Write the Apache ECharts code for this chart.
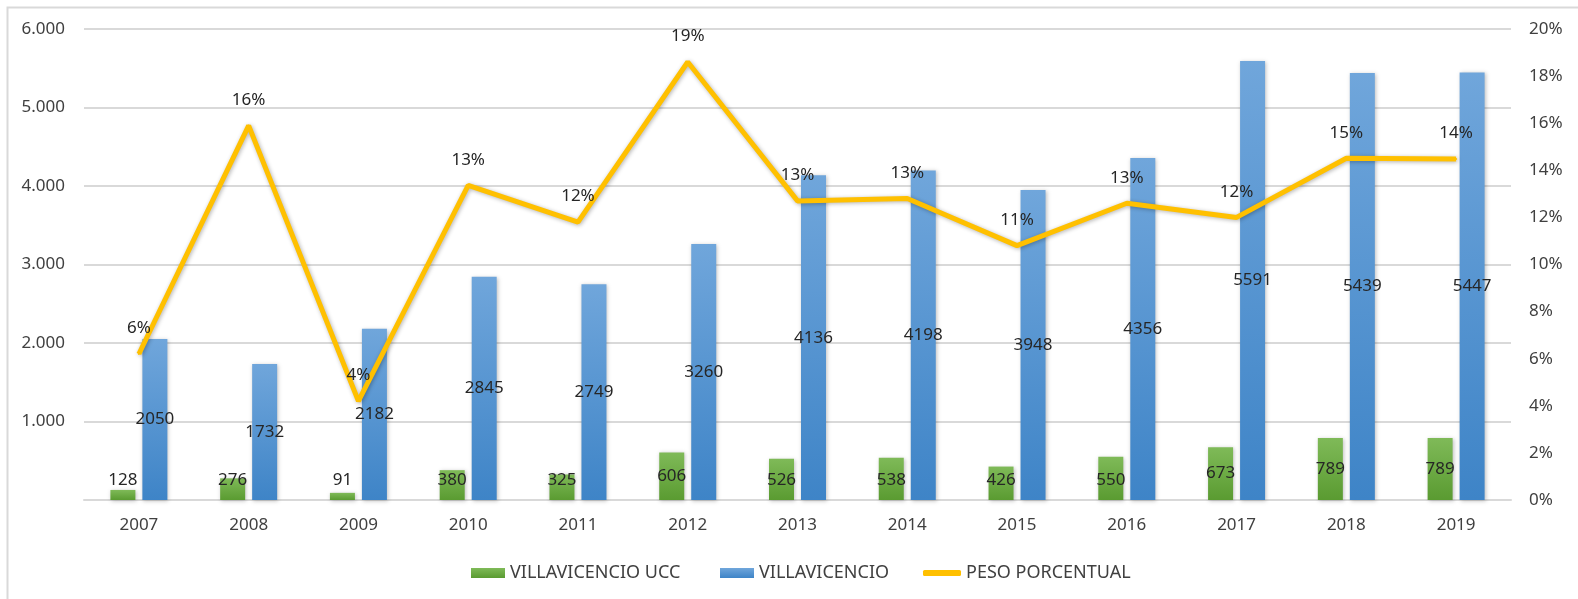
<!DOCTYPE html>
<html>
<head>
<meta charset="utf-8">
<script src="https://cdn.jsdelivr.net/npm/echarts@6/dist/echarts.min.js"></script>
<style>
html,body{margin:0;padding:0;background:#fff;}
#c{width:1578px;height:599px;}
</style>
</head>
<body>
<div id="c"></div>
<script>
var years = ['2007','2008','2009','2010','2011','2012','2013','2014','2015','2016','2017','2018','2019'];
var ucc = [128, 276, 91, 380, 325, 606, 526, 538, 426, 550, 673, 789, 789];
var villavicencio = [2050, 1732, 2182, 2845, 2749, 3260, 4136, 4198, 3948, 4356, 5591, 5439, 5447];
var peso = [6.2, 15.9, 4.2, 13.36, 11.8, 18.6, 12.7, 12.8, 10.8, 12.6, 12.0, 14.51, 14.48];
var seriesNames = ['VILLAVICENCIO UCC', 'VILLAVICENCIO', 'PESO PORCENTUAL'];

var FONT = 'Noto Sans';
var TXT = '#404040';
var chart = echarts.init(document.getElementById('c'));
function grad(top, bottom){
  return new echarts.graphic.LinearGradient(0,0,0,1,[{offset:0,color:top},{offset:1,color:bottom}]);
}
var uccData = ucc.map(function(v){
  return v >= 600 ? {value:v, label:{position:'inside'}} : v;
});
var legendBase = {
  orient:'horizontal', top:559, itemWidth:34, itemHeight:10,
  textStyle:{fontFamily:FONT, fontSize:18, color:TXT}, selectedMode:false
};
chart.setOption({
  animation:false,
  backgroundColor:'#fff',
  graphic:[{type:'rect', left:5, top:5, shape:{width:1572, height:620},
    style:{fill:'none', stroke:'#d9d9d9', lineWidth:2}, silent:true}],
  grid:{left:84, right:67, top:29, bottom:99},
  legend:[
    Object.assign({}, legendBase, {left:466, data:[{name:seriesNames[0], icon:'rect'}]}),
    Object.assign({}, legendBase, {left:715, data:[{name:seriesNames[1], icon:'rect'}]}),
    Object.assign({}, legendBase, {left:918, itemWidth:38, itemHeight:6, data:[{name:seriesNames[2], icon:'roundRect'}]})
  ],
  xAxis:{
    type:'category', data:years,
    axisLine:{lineStyle:{color:'#d9d9d9', width:2}},
    axisTick:{show:false},
    axisLabel:{fontFamily:FONT, fontSize:17, color:TXT, margin:17}
  },
  yAxis:[
    {type:'value', min:0, max:6000, interval:1000,
     axisLine:{show:false}, axisTick:{show:false},
     splitLine:{lineStyle:{color:'#d9d9d9', width:2}},
     axisLabel:{fontFamily:FONT, fontSize:17, color:TXT, margin:19,
       formatter:function(v){ if(v===0) return ''; return (v/1000).toFixed(0)+'.000'; }}},
    {type:'value', min:0, max:20, interval:2, position:'right',
     axisLine:{show:false}, axisTick:{show:false}, splitLine:{show:false},
     axisLabel:{fontFamily:FONT, fontSize:17, color:TXT, margin:18,
       formatter:function(v){ return v+'%'; }}}
  ],
  series:[
    {name:seriesNames[0], type:'bar', data:uccData, barWidth:25, barGap:'28%',
     itemStyle:{color:grad('#7fba58','#5a9b31'), shadowBlur:4, shadowColor:'rgba(0,0,0,0.25)', shadowOffsetX:1, shadowOffsetY:1},
     label:{show:true, position:'insideBottom', distance:11, fontFamily:FONT, fontSize:17, color:'#262626'}},
    {name:seriesNames[1], type:'bar', data:villavicencio, barWidth:25,
     itemStyle:{color:grad('#70a6db','#3e84c7'), shadowBlur:4, shadowColor:'rgba(0,0,0,0.25)', shadowOffsetX:1, shadowOffsetY:1},
     label:{show:true, position:'inside', fontFamily:FONT, fontSize:17, color:'#262626'}},
    {name:seriesNames[2], type:'line', yAxisIndex:1, data:peso,
     symbol:'circle', symbolSize:2, z:5,
     lineStyle:{color:'#ffc000', width:5, shadowBlur:4, shadowColor:'rgba(0,0,0,0.3)', shadowOffsetX:1, shadowOffsetY:1},
     itemStyle:{color:'#ffc000'},
     label:{show:true, position:'top', distance:16, fontFamily:FONT, fontSize:17, color:'#262626',
       formatter:function(p){ return Math.round(p.value)+'%'; }}}
  ]
});
</script>
</body>
</html>
